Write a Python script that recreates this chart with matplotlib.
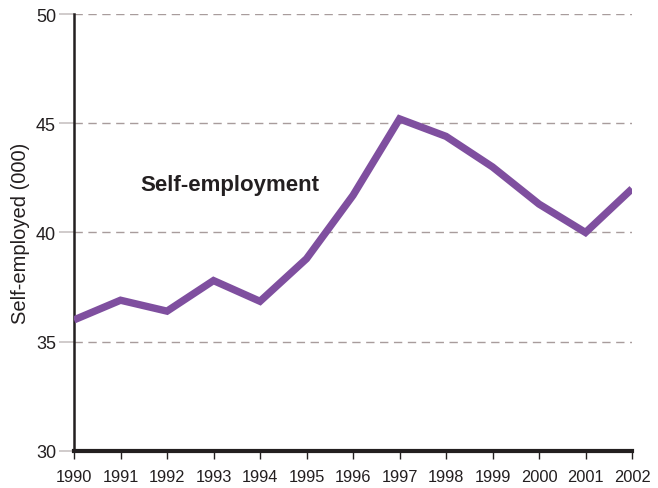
import matplotlib
matplotlib.use('Agg')
import matplotlib.pyplot as plt

plt.rcParams['font.family'] = ['Liberation Sans', 'DejaVu Sans']

years = [1990, 1991, 1992, 1993, 1994, 1995, 1996, 1997, 1998, 1999, 2000, 2001, 2002]
self_employed = [36.0, 36.9, 36.4, 37.8, 36.85, 38.8, 41.7, 45.2, 44.4, 43.0, 41.3, 40.0, 42.0]
y_ticks = [30, 35, 40, 45, 50]

fig = plt.figure(figsize=(6.58, 4.89), dpi=100)
ax = fig.add_axes([0.1125, 0.0757, 0.848, 0.8936])

ax.plot(years, self_employed, color='#7f4f9f', linewidth=5.3, solid_joinstyle='miter',
        solid_capstyle='butt', zorder=3)

ax.set_xlim(1990, 2002)
ax.set_ylim(30, 50)
ax.set_xticks(years)
ax.set_yticks(y_ticks)
ax.tick_params(axis='x', direction='out', length=6, width=1, color='#231f20',
               labelsize=11.8, pad=7, labelcolor='#231f20')
ax.tick_params(axis='y', direction='out', length=11, width=1.2, color='#c8c2c2',
               labelsize=13, pad=2, labelcolor='#231f20')

for y in y_ticks[1:]:
    ax.axhline(y, color='#a89c9c', linewidth=1, dashes=(6, 4), zorder=1)

for s in ['top', 'right']:
    ax.spines[s].set_visible(False)
ax.spines['left'].set_color('#231f20')
ax.spines['left'].set_linewidth(1.8)
ax.spines['bottom'].set_color('#231f20')
ax.spines['bottom'].set_linewidth(3)

ax.set_ylabel('Self-employed (000)', fontsize=14.5, color='#231f20', labelpad=4)
ax.text(1991.43, 42.2, 'Self-employment', fontsize=16, fontweight='bold',
        color='#231f20', ha='left', va='center')

fig.savefig('out.png', dpi=100)
